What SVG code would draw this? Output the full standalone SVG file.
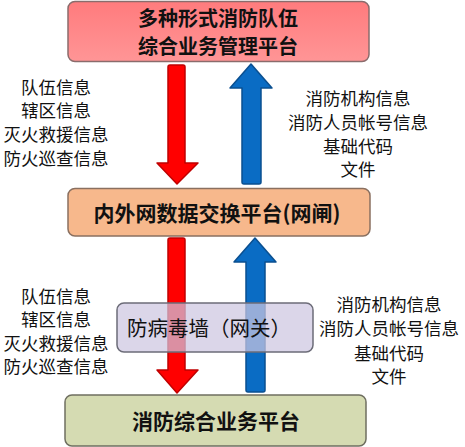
<svg xmlns="http://www.w3.org/2000/svg" width="465" height="447" viewBox="0 0 465 447">
<defs>
<linearGradient id="gTop" x1="0" y1="0" x2="0" y2="1"><stop offset="0" stop-color="#ff7b7d"/><stop offset="1" stop-color="#ff9596"/></linearGradient>
<style>
text{font-family:"Noto Sans CJK SC","Noto Sans",sans-serif;fill:#111;text-anchor:middle;dominant-baseline:central}
.lbl{font-size:17.5px}
.ttl{font-size:21px;font-weight:bold}
.box{stroke-width:1.5}
.red{fill:#ff0000;stroke:#c00000;stroke-width:1.5;stroke-linejoin:round}
.blue{fill:#0a6cc4;stroke:#0a4f90;stroke-width:1.5;stroke-linejoin:round}
</style>
</defs>
<g id="node-top"><rect class="box" x="68" y="1.5" width="301" height="60" rx="7" fill="url(#gTop)" stroke="#8a6c6c"/>
<text class="ttl" style="font-size:20px"><tspan x="218" y="17">多种形式消防队伍</tspan><tspan x="218" y="45">综合业务管理平台</tspan></text></g>
<g id="node-exchange"><rect class="box" x="68" y="188.5" width="302" height="47.5" rx="7" fill="#f7b88c" stroke="#8a7060"/>
<text class="ttl" x="217" y="212">内外网数据交换平台(网闸)</text></g>
<g id="node-bottom"><rect class="box" x="65" y="395" width="301" height="51" rx="7" fill="#d5dbb2" stroke="#6f6f60"/>
<text class="ttl" x="216" y="420">消防综合业务平台</text></g>
<g id="connectors">
<path class="red" d="M168,67 Q168,65 170,65 L183,65 Q185,65 185,67 L185,163 L198,163 L177,184 L157,163 L168,163 Z"/>
<path class="blue" d="M251,64 L272,88 L261,88 L261,182 Q261,184 259,184 L244,184 Q242,184 242,182 L242,88 L230,88 Z"/>
<path class="red" d="M168,240 Q168,238 170,238 L183,238 Q185,238 185,240 L185,370 L198,370 L177,393 L157,370 L168,370 Z"/>
<path class="blue" d="M255,238 L276,262 L265,262 L265,390 Q265,392 263,392 L248,392 Q246,392 246,390 L246,262 L234,262 Z"/>
</g>
<g id="node-firewall"><rect class="box" x="117" y="303" width="196" height="49" rx="7" fill="#cdc6e0" fill-opacity="0.72" stroke="#6c6c78"/>
<text class="ttl" x="209" y="327" style="font-weight:normal;font-size:20.5px">防病毒墙（网关）</text></g>
<g id="labels">
<text class="lbl" x="56" y="86">队伍信息</text>
<text class="lbl" x="56" y="109">辖区信息</text>
<text class="lbl" x="56" y="133">灭火救援信息</text>
<text class="lbl" x="56" y="157">防火巡查信息</text>
<text class="lbl" x="358" y="97">消防机构信息</text>
<text class="lbl" x="358" y="121">消防人员帐号信息</text>
<text class="lbl" x="358" y="145">基础代码</text>
<text class="lbl" x="358" y="168">文件</text>
<text class="lbl" x="56" y="295">队伍信息</text>
<text class="lbl" x="56" y="318">辖区信息</text>
<text class="lbl" x="56" y="342">灭火救援信息</text>
<text class="lbl" x="56" y="365">防火巡查信息</text>
<text class="lbl" x="389" y="303">消防机构信息</text>
<text class="lbl" x="389" y="327">消防人员帐号信息</text>
<text class="lbl" x="389" y="352">基础代码</text>
<text class="lbl" x="389" y="375">文件</text>
</g>
</svg>
